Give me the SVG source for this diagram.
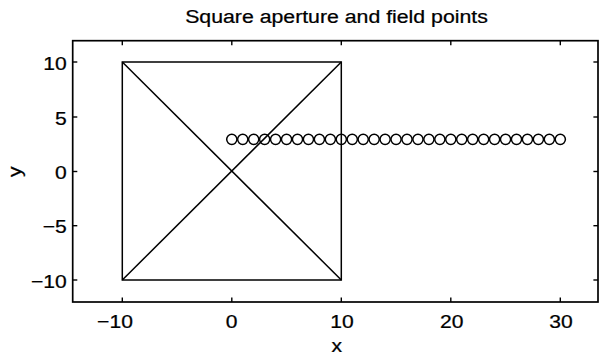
<svg xmlns="http://www.w3.org/2000/svg" width="599" height="358" viewBox="0 0 599 358">
  <style>
    .txt { font-family: "Liberation Sans", Arial, Helvetica, sans-serif; font-size: 19px; fill: #000; stroke: #000; stroke-width: 0.25; }
    .mid { text-anchor: middle; }
    .end { text-anchor: end; }
    .axis { fill: none; stroke: #000; stroke-width: 1.7; }
    .tick { stroke: #000; stroke-width: 1.4; }
    .shape { fill: none; stroke: #000; stroke-width: 1.5; }
    .pt { fill: none; stroke: #000; stroke-width: 1.5; }
  </style>
  <rect width="599" height="358" fill="#fff"/>

  <g id="title">
    <text class="txt mid" transform="translate(336.5,23) scale(1.12,1)">Square aperture and field points</text>
  </g>

  <g id="axes">
    <rect class="axis" x="72.7" y="40.7" width="525.3" height="261.3"/>
    <g class="tick">
      <line x1="122.3" y1="302" x2="122.3" y2="297.4"/>
      <line x1="231.8" y1="302" x2="231.8" y2="297.4"/>
      <line x1="341.3" y1="302" x2="341.3" y2="297.4"/>
      <line x1="450.8" y1="302" x2="450.8" y2="297.4"/>
      <line x1="560.3" y1="302" x2="560.3" y2="297.4"/>
      <line x1="122.3" y1="40.7" x2="122.3" y2="45.3"/>
      <line x1="231.8" y1="40.7" x2="231.8" y2="45.3"/>
      <line x1="341.3" y1="40.7" x2="341.3" y2="45.3"/>
      <line x1="450.8" y1="40.7" x2="450.8" y2="45.3"/>
      <line x1="560.3" y1="40.7" x2="560.3" y2="45.3"/>
      <line x1="72.7" y1="62" x2="77.3" y2="62"/>
      <line x1="72.7" y1="117" x2="77.3" y2="117"/>
      <line x1="72.7" y1="171.5" x2="77.3" y2="171.5"/>
      <line x1="72.7" y1="225.7" x2="77.3" y2="225.7"/>
      <line x1="72.7" y1="280" x2="77.3" y2="280"/>
      <line x1="598" y1="62" x2="593.4" y2="62"/>
      <line x1="598" y1="117" x2="593.4" y2="117"/>
      <line x1="598" y1="171.5" x2="593.4" y2="171.5"/>
      <line x1="598" y1="225.7" x2="593.4" y2="225.7"/>
      <line x1="598" y1="280" x2="593.4" y2="280"/>
    </g>
    <text class="txt end" transform="translate(66.7,69.5) scale(1.11,1)">10</text>
    <text class="txt end" transform="translate(66.7,124.5) scale(1.11,1)">5</text>
    <text class="txt end" transform="translate(66.7,179) scale(1.11,1)">0</text>
    <text class="txt end" transform="translate(66.7,233.3) scale(1.11,1)">−5</text>
    <text class="txt end" transform="translate(66.7,287.7) scale(1.11,1)">−10</text>
    <text class="txt mid" transform="translate(115,328.3) scale(1.11,1)">−10</text>
    <text class="txt mid" transform="translate(231.7,328.3) scale(1.11,1)">0</text>
    <text class="txt mid" transform="translate(342,328.3) scale(1.11,1)">10</text>
    <text class="txt mid" transform="translate(451.7,328.3) scale(1.11,1)">20</text>
    <text class="txt mid" transform="translate(561,328.3) scale(1.11,1)">30</text>
    <text class="txt mid" transform="translate(336.7,351.5) scale(1.11,1)">x</text>
    <text class="txt mid" transform="translate(21,171.7) rotate(-90) scale(1.11,1)">y</text>
  </g>

  <g id="aperture">
    <rect class="shape" x="122.3" y="62" width="219" height="218"/>
    <line class="shape" x1="122.3" y1="62" x2="341.3" y2="280"/>
    <line class="shape" x1="122.3" y1="280" x2="341.3" y2="62"/>
  </g>

  <g id="field-points">
    <circle class="pt" cx="231.8" cy="139.3" r="5.1"/>
    <circle class="pt" cx="242.75" cy="139.3" r="5.1"/>
    <circle class="pt" cx="253.7" cy="139.3" r="5.1"/>
    <circle class="pt" cx="264.65" cy="139.3" r="5.1"/>
    <circle class="pt" cx="275.6" cy="139.3" r="5.1"/>
    <circle class="pt" cx="286.55" cy="139.3" r="5.1"/>
    <circle class="pt" cx="297.5" cy="139.3" r="5.1"/>
    <circle class="pt" cx="308.45" cy="139.3" r="5.1"/>
    <circle class="pt" cx="319.4" cy="139.3" r="5.1"/>
    <circle class="pt" cx="330.35" cy="139.3" r="5.1"/>
    <circle class="pt" cx="341.3" cy="139.3" r="5.1"/>
    <circle class="pt" cx="352.25" cy="139.3" r="5.1"/>
    <circle class="pt" cx="363.2" cy="139.3" r="5.1"/>
    <circle class="pt" cx="374.15" cy="139.3" r="5.1"/>
    <circle class="pt" cx="385.1" cy="139.3" r="5.1"/>
    <circle class="pt" cx="396.05" cy="139.3" r="5.1"/>
    <circle class="pt" cx="407" cy="139.3" r="5.1"/>
    <circle class="pt" cx="417.95" cy="139.3" r="5.1"/>
    <circle class="pt" cx="428.9" cy="139.3" r="5.1"/>
    <circle class="pt" cx="439.85" cy="139.3" r="5.1"/>
    <circle class="pt" cx="450.8" cy="139.3" r="5.1"/>
    <circle class="pt" cx="461.75" cy="139.3" r="5.1"/>
    <circle class="pt" cx="472.7" cy="139.3" r="5.1"/>
    <circle class="pt" cx="483.65" cy="139.3" r="5.1"/>
    <circle class="pt" cx="494.6" cy="139.3" r="5.1"/>
    <circle class="pt" cx="505.55" cy="139.3" r="5.1"/>
    <circle class="pt" cx="516.5" cy="139.3" r="5.1"/>
    <circle class="pt" cx="527.45" cy="139.3" r="5.1"/>
    <circle class="pt" cx="538.4" cy="139.3" r="5.1"/>
    <circle class="pt" cx="549.35" cy="139.3" r="5.1"/>
    <circle class="pt" cx="560.3" cy="139.3" r="5.1"/>
  </g>
</svg>
